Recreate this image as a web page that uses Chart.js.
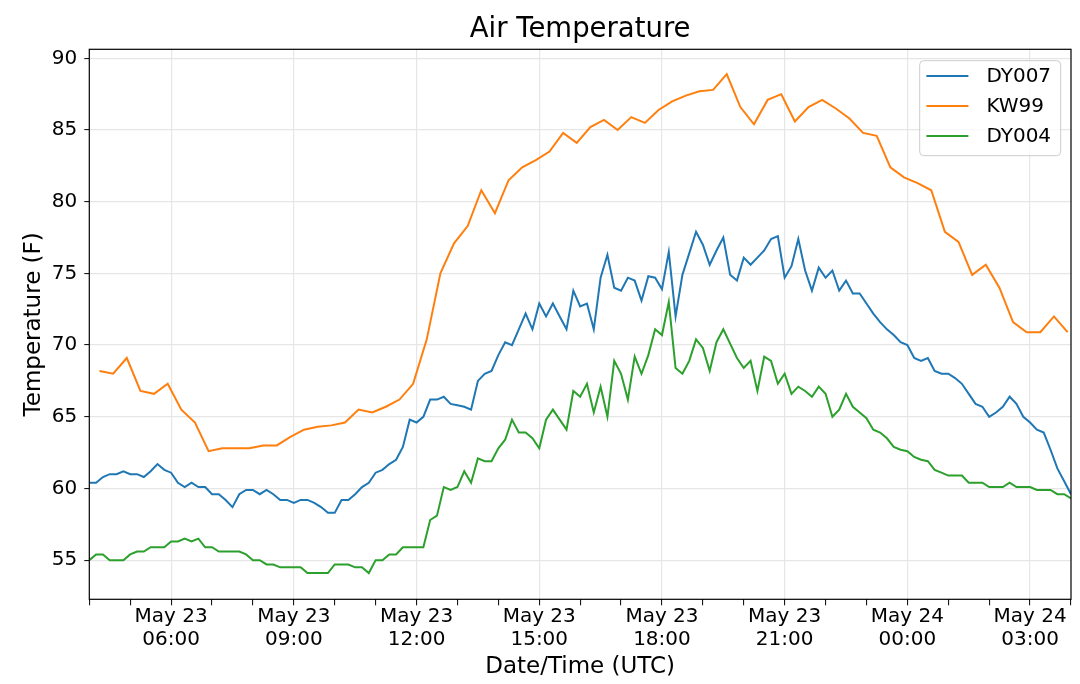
<!DOCTYPE html>
<html>
<head>
<meta charset="utf-8">
<script src="https://cdn.jsdelivr.net/npm/chart.js@4.4.1/dist/chart.umd.min.js"></script>
<style>
  html, body { margin: 0; padding: 0; background: #fff; }
  #wrap { width: 1080px; height: 684px; }
</style>
</head>
<body>
<div id="wrap"><canvas id="airTemp"></canvas></div>
<script>
// hours since May 23 00:00 UTC
var stationStart = 4;        // DY007 / DY004 first sample, 04:00
var stationStepMin = 10;     // one sample every 10 minutes
var kwStart = 4.25;          // KW99 first report, 04:15
var kwStepMin = 20;          // one report every 20 minutes

var seriesNames = ['DY007', 'KW99', 'DY004'];
var seriesColors = ['#1f77b4', '#ff7f0e', '#2ca02c'];

var dy007 = [
  60.4, 60.4, 60.8, 61.0, 61.0, 61.2, 61.0, 61.0, 60.8, 61.2,
  61.7, 61.3, 61.1, 60.4, 60.1, 60.4, 60.1, 60.1, 59.6, 59.6,
  59.2, 58.7, 59.6, 59.9, 59.9, 59.6, 59.9, 59.6, 59.2, 59.2,
  59.0, 59.2, 59.2, 59.0, 58.7, 58.3, 58.3, 59.2, 59.2, 59.6,
  60.1, 60.4, 61.1, 61.3, 61.7, 62.0, 62.9, 64.8, 64.6, 65.0,
  66.2, 66.2, 66.4, 65.9, 65.8, 65.7, 65.5, 67.5, 68.0, 68.2,
  69.3, 70.2, 70.0, 71.1, 72.2, 71.1, 72.9, 72.0, 72.9, 72.0,
  71.1, 73.8, 72.7, 72.9, 71.1, 74.7, 76.3, 74.0, 73.8, 74.7,
  74.5, 73.1, 74.8, 74.7, 73.9, 76.5, 72.0, 74.9, 76.4, 77.9,
  77.0, 75.6, 76.6, 77.5, 74.9, 74.5, 76.1, 75.6, 76.1, 76.6,
  77.4, 77.6, 74.7, 75.5, 77.4, 75.2, 73.8, 75.4, 74.7, 75.2,
  73.8, 74.5, 73.6, 73.6, 72.9, 72.2, 71.6, 71.1, 70.7, 70.2,
  70.0, 69.1, 68.9, 69.1, 68.2, 68.0, 68.0, 67.7, 67.3, 66.6,
  65.9, 65.7, 65.0, 65.3, 65.7, 66.4, 65.9, 65.0, 64.6, 64.1,
  63.9, 62.7, 61.4, 60.5, 59.6
];

var kw99 = [
  68.2, 68.0, 69.1, 66.8, 66.6, 67.3, 65.5, 64.6, 62.6, 62.8,
  62.8, 62.8, 63.0, 63.0, 63.6, 64.1, 64.3, 64.4, 64.6, 65.5,
  65.3, 65.7, 66.2, 67.3, 70.4, 75.0, 77.1, 78.3, 80.8, 79.2,
  81.5, 82.4, 82.9, 83.5, 84.8, 84.1, 85.2, 85.7, 85.0, 85.9,
  85.5, 86.4, 87.0, 87.4, 87.7, 87.8, 88.9, 86.6, 85.4, 87.1,
  87.5, 85.6, 86.6, 87.1, 86.5, 85.8, 84.8, 84.6, 82.4, 81.7,
  81.3, 80.8, 77.9, 77.2, 74.9, 75.6, 74.0, 71.6, 70.9, 70.9,
  72.0, 70.9
];

var dy004 = [
  55.0, 55.4, 55.4, 55.0, 55.0, 55.0, 55.4, 55.6, 55.6, 55.9,
  55.9, 55.9, 56.3, 56.3, 56.5, 56.3, 56.5, 55.9, 55.9, 55.6,
  55.6, 55.6, 55.6, 55.4, 55.0, 55.0, 54.7, 54.7, 54.5, 54.5,
  54.5, 54.5, 54.1, 54.1, 54.1, 54.1, 54.7, 54.7, 54.7, 54.5,
  54.5, 54.1, 55.0, 55.0, 55.4, 55.4, 55.9, 55.9, 55.9, 55.9,
  57.8, 58.1, 60.1, 59.9, 60.1, 61.2, 60.4, 62.1, 61.9, 61.9,
  62.8, 63.4, 64.8, 63.9, 63.9, 63.5, 62.8, 64.8, 65.5, 64.8,
  64.1, 66.8, 66.4, 67.3, 65.3, 67.1, 65.0, 68.9, 68.0, 66.2,
  69.2, 68.0, 69.3, 71.1, 70.7, 73.0, 68.4, 68.0, 68.9, 70.4,
  69.8, 68.2, 70.2, 71.1, 70.1, 69.1, 68.4, 68.9, 66.8, 69.2,
  68.9, 67.3, 68.0, 66.6, 67.1, 66.8, 66.4, 67.1, 66.6, 65.0,
  65.5, 66.6, 65.7, 65.3, 64.9, 64.1, 63.9, 63.5, 62.9, 62.7,
  62.6, 62.2, 62.0, 61.9, 61.3, 61.1, 60.9, 60.9, 60.9, 60.4,
  60.4, 60.4, 60.1, 60.1, 60.1, 60.4, 60.1, 60.1, 60.1, 59.9,
  59.9, 59.9, 59.6, 59.6, 59.3
];

// axis limits
var xMin = 4, xMax = 28;
var yMin = 52.27, yMax = 90.63;

function toPoints(values, start, stepMin) {
  return values.map(function (v, i) {
    return { x: start + i * stepMin / 60, y: v };
  });
}

function hourLabel(h) {
  var day = h < 24 ? 'May 23' : 'May 24';
  var hh = h % 24;
  return [day, (hh < 10 ? '0' : '') + hh + ':00'];
}

Chart.defaults.font.family = 'DejaVu Sans';
Chart.defaults.color = '#000';

// black box round the plot, like matplotlib spines
var frame = {
  id: 'frame',
  afterDatasetsDraw: function (chart) {
    var a = chart.chartArea, ctx = chart.ctx;
    ctx.save();
    ctx.strokeStyle = '#000';
    ctx.lineWidth = 1.2;
    ctx.strokeRect(a.left, a.top, a.right - a.left, a.bottom - a.top);
    ctx.restore();
  }
};

// legend box in the upper right corner of the plot
var legendBox = {
  id: 'legendBox',
  afterDraw: function (chart) {
    var a = chart.chartArea, ctx = chart.ctx;
    var w = 141, h = 95;
    var x = a.right - 10.3 - w, y = a.top + 11.4;
    ctx.save();
    ctx.beginPath();
    ctx.roundRect(x, y, w, h, 4);
    ctx.fillStyle = 'rgba(255,255,255,0.8)';
    ctx.fill();
    ctx.strokeStyle = '#cccccc';
    ctx.lineWidth = 1;
    ctx.stroke();
    ctx.font = '20px "DejaVu Sans"';
    ctx.textBaseline = 'middle';
    ctx.textAlign = 'left';
    chart.data.datasets.forEach(function (ds, i) {
      var yy = y + 15.4 + i * 29.9;
      ctx.beginPath();
      ctx.moveTo(x + 6.7, yy);
      ctx.lineTo(x + 48.7, yy);
      ctx.strokeStyle = ds.borderColor;
      ctx.lineWidth = 2;
      ctx.stroke();
      ctx.fillStyle = '#000';
      ctx.fillText(ds.label, x + 66.7, yy + 1);
    });
    ctx.restore();
  }
};

var ctx = document.getElementById('airTemp').getContext('2d');
var chart = new Chart(ctx, {
  type: 'line',
  data: {
    datasets: [
      { label: seriesNames[0], data: toPoints(dy007, stationStart, stationStepMin), borderColor: seriesColors[0] },
      { label: seriesNames[1], data: toPoints(kw99, kwStart, kwStepMin), borderColor: seriesColors[1] },
      { label: seriesNames[2], data: toPoints(dy004, stationStart, stationStepMin), borderColor: seriesColors[2] }
    ]
  },
  options: {
    responsive: true,
    maintainAspectRatio: false,
    animation: false,
    layout: { padding: { left: 0, right: 9, top: 0, bottom: 0 } },
    elements: {
      line: { borderWidth: 2, tension: 0, fill: false },
      point: { radius: 0, hoverRadius: 0 }
    },
    plugins: {
      legend: { display: false },
      tooltip: { enabled: false },
      title: {
        display: true,
        fullSize: false,   // centre over the plot, not the whole canvas
        text: 'Air Temperature',
        color: '#000',
        font: { size: 27.5, weight: 'normal' },
        padding: { top: 13.3, bottom: 3.0 }
      }
    },
    scales: {
      x: {
        type: 'linear',
        min: xMin,
        max: xMax,
        border: { display: false },
        grid: {
          color: function (c) { return c.tick && c.tick.value % 3 === 0 ? '#e6e6e6' : 'rgba(0,0,0,0)'; },
          lineWidth: 1.2,
          tickColor: '#000',
          tickLength: 6,
          tickWidth: 1
        },
        ticks: {
          stepSize: 1,
          maxTicksLimit: 30,
          includeBounds: false,
          autoSkip: false,
          maxRotation: 0,
          minRotation: 0,
          padding: 0,
          color: '#000',
          font: { size: 20, lineHeight: 1.15 },
          callback: function (v) { return v % 3 === 0 ? hourLabel(v) : ''; }
        },
        title: {
          display: true,
          text: 'Date/Time (UTC)',
          color: '#000',
          font: { size: 23 },
          padding: { top: 0, bottom: 3.5 }
        },
        afterFit: function (s) { s.height = 84.7; }
      },
      y: {
        min: yMin,
        max: yMax,
        border: { display: false },
        grid: {
          color: '#e6e6e6',
          lineWidth: 1.2,
          tickColor: '#000',
          tickLength: 5,
          tickWidth: 1
        },
        ticks: {
          stepSize: 5,
          includeBounds: false,
          padding: 7,
          color: '#000',
          font: { size: 20 }
        },
        title: {
          display: true,
          text: 'Temperature (F)',
          color: '#000',
          font: { size: 23 },
          padding: { top: 20.5, bottom: 0 }
        },
        afterFit: function (s) { s.width = 89.3; }
      }
    }
  },
  plugins: [frame, legendBox]
});
</script>
</body>
</html>
